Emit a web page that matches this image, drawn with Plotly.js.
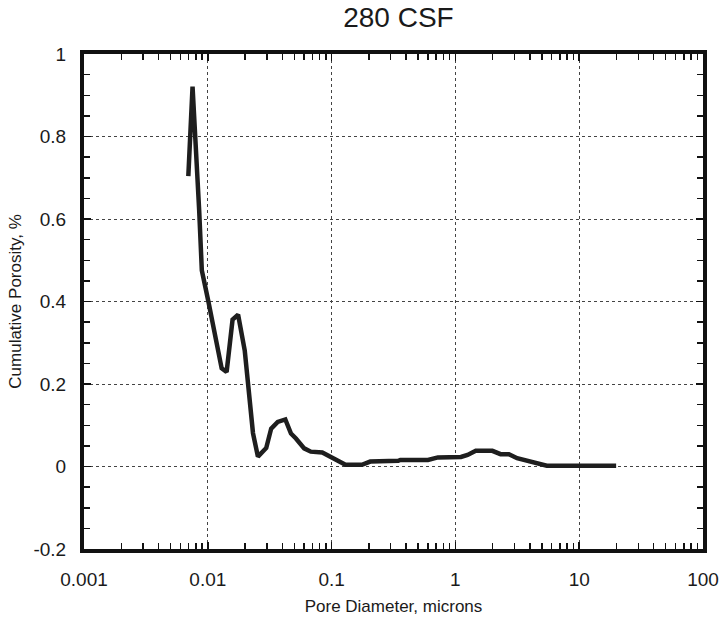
<!DOCTYPE html>
<html>
<head>
<meta charset="utf-8">
<script src="https://cdn.plot.ly/plotly-3.0.1.min.js"></script>
<style>html,body{margin:0;padding:0;background:#fff;}#chart{width:723px;height:621px;}</style>
</head>
<body>
<div id="chart"></div>
<script>
// Pore diameter (microns)
const poreDiameter = [0.00696, 0.00753, 0.00852, 0.00895, 0.01011, 0.01209, 0.01294, 0.01419, 0.01585, 0.01757,
  0.01988, 0.02317, 0.0254, 0.02965, 0.03251, 0.03671, 0.0423, 0.04699, 0.05152, 0.06003,
  0.06792, 0.08412, 0.09817, 0.1294, 0.1757, 0.2051, 0.3455, 0.3593, 0.6003, 0.7219,
  1.109, 1.254, 1.461, 1.988, 2.317, 2.704, 3.151, 4.285, 5.474, 19.88];
// Cumulative porosity (%)
const cumPorosity = [0.704, 0.921, 0.620, 0.475, 0.400, 0.281, 0.238, 0.229, 0.356, 0.368,
  0.281, 0.081, 0.024, 0.045, 0.092, 0.108, 0.114, 0.080, 0.068, 0.044,
  0.036, 0.034, 0.024, 0.004, 0.004, 0.012, 0.014, 0.016, 0.016, 0.022,
  0.023, 0.028, 0.038, 0.038, 0.030, 0.030, 0.020, 0.009, 0.002, 0.002];

const xTickVals = [0.001, 0.01, 0.1, 1, 10, 100];
const xTickText = ["0.001", "0.01", "0.1", "1", "10", "100"];
const yTickVals = [-0.2, 0, 0.2, 0.4, 0.6, 0.8, 1];
const yTickText = ["-0.2", "0", "0.2", "0.4", "0.6", "0.8", "1"];

const font = "Liberation Sans, Arial, Helvetica, sans-serif";

const trace = {
  x: poreDiameter, y: cumPorosity, type: 'scatter', mode: 'lines',
  line: {color: '#1e1e1e', width: 4.5}, hoverinfo: 'skip'
};

const layout = {
  width: 723, height: 621,
  margin: {l: 84, r: 20, t: 54, b: 72, pad: 0},
  paper_bgcolor: '#fff', plot_bgcolor: '#fff',
  showlegend: false,
  font: {family: font, color: '#1a1a1a'},
  title: {text: '280 CSF', font: {size: 28, family: font, color: '#1a1a1a'},
          x: 0.508, xref: 'paper', xanchor: 'center', y: 0.973, yref: 'container', yanchor: 'middle'},
  xaxis: {
    type: 'log', range: [-3, 2],
    tickvals: xTickVals, ticktext: xTickText,
    tickfont: {size: 19, family: font, color: '#1a1a1a'},
    ticks: 'inside', ticklen: 7, tickwidth: 1.5, tickcolor: '#111',
    ticklabelstandoff: 10,
    showline: true, linewidth: 4, linecolor: '#111', mirror: 'allticks',
    showgrid: true, gridcolor: '#444', gridwidth: 1, griddash: 'dot',
    zeroline: false,
    minor: {dtick: 'D1', ticks: 'inside', ticklen: 6, tickwidth: 1.5, tickcolor: '#111', showgrid: false},
    title: {text: 'Pore Diameter, microns', font: {size: 17, family: font, color: '#1a1a1a'}, standoff: 12}
  },
  yaxis: {
    range: [-0.2, 1],
    tickvals: yTickVals, ticktext: yTickText,
    tickfont: {size: 19, family: font, color: '#1a1a1a'},
    ticks: 'inside', ticklen: 7, tickwidth: 1.5, tickcolor: '#111',
    ticklabelstandoff: 10,
    showline: true, linewidth: 4, linecolor: '#111', mirror: 'allticks',
    showgrid: true, gridcolor: '#444', gridwidth: 1, griddash: 'dot',
    zeroline: false,
    minor: {dtick: 0.05, ticks: 'inside', ticklen: 6, tickwidth: 1.5, tickcolor: '#111', showgrid: false},
    title: {text: 'Cumulative Porosity, %', font: {size: 17, family: font, color: '#1a1a1a'}, standoff: 9}
  }
};

Plotly.newPlot('chart', [trace], layout, {staticPlot: true, displayModeBar: false});
</script>
</body>
</html>
